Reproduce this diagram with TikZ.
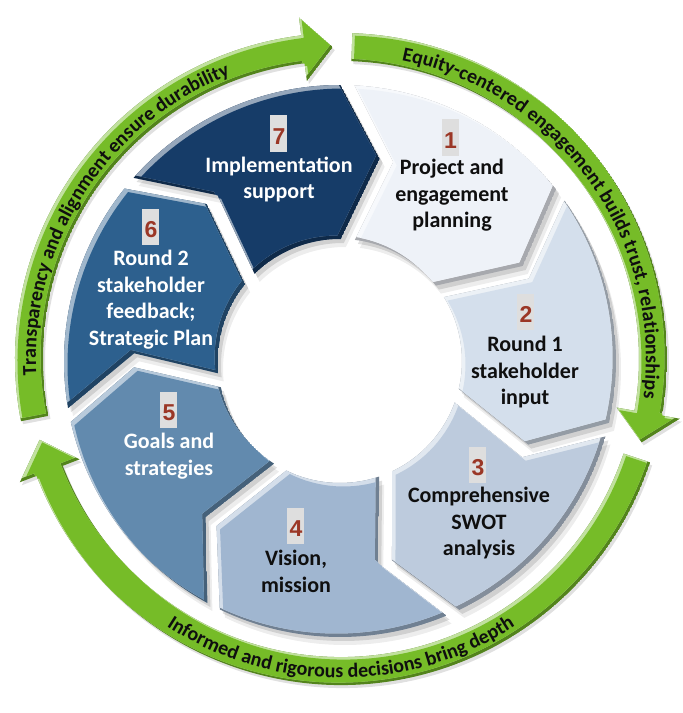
\documentclass[tikz,border=0pt]{standalone}
\usepackage{fontspec}
\setmainfont{Carlito}
\newfontfamily\numfont{Liberation Sans}
\usetikzlibrary{decorations.text}

\definecolor{sA}{RGB}{238,242,248}
\definecolor{sB}{RGB}{212,223,236}
\definecolor{sC}{RGB}{189,203,221}
\definecolor{sD}{RGB}{160,182,208}
\definecolor{sE}{RGB}{98,138,174}
\definecolor{sF}{RGB}{45,96,142}
\definecolor{sG}{RGB}{22,60,104}
\definecolor{numred}{RGB}{155,55,38}
\definecolor{numbg}{RGB}{222,222,222}
\definecolor{gmain}{RGB}{118,188,40}
\definecolor{txtdark}{RGB}{15,15,15}

\newcommand\Ro{276}
\newcommand\Ri{122}
\newcommand\Rm{206}
\newcommand\SetSeg[1]{%
 \pgfmathsetmacro\T{#1}%
 \pgfmathsetmacro\La{#1-51.4286+2.9}%
 \pgfmathsetmacro\Lt{#1-51.4286-8.1}%
 \pgfmathsetmacro\Li{#1-51.4286+2.6}%
 \pgfmathsetmacro\Ti{#1-4}%
 \pgfmathsetmacro\Tn{#1-12}}
\newcommand\SegPath{(\T:\Ro) arc[start angle=\T,end angle=\La,radius=\Ro] -- (\Lt:\Rm) -- (\Li:\Ri) arc[start angle=\Li,end angle=\Ti,radius=\Ri] -- (\Tn:\Rm) -- cycle}
\newcommand\DrawSeg[2]{%
 \SetSeg{#1}%
 \begin{scope}
  \clip \SegPath;
  \fill[#2!70!black] \SegPath;
  \fill[#2!45!white, shift={(-3.5,3.5)}] \SegPath;
  \clip[shift={(-3.5,3.5)}] \SegPath;
  \fill[#2, shift={(3.5,-3.5)}] \SegPath;
 \end{scope}}

\newcommand\SetArrow[3]{\def\gA{#1}\def\gB{#2}\def\gC{#3}}
\newcommand\GPath{(\gA:326) arc[start angle=\gA,end angle=\gB,radius=326] -- (\gB:344) -- (\gC:312) -- (\gB:280) -- (\gB:298) arc[start angle=\gB,end angle=\gA,radius=298] -- cycle}
\newcommand\DrawArrow[3]{%
 \SetArrow{#1}{#2}{#3}%
 \fill[black, opacity=0.12, shift={(2,-3)}] \GPath;
 \begin{scope}
  \clip \GPath;
  \fill[gmain!70!black] \GPath;
  \fill[gmain!45!white, shift={(-2.5,2.5)}] \GPath;
  \clip[shift={(-2.5,2.5)}] \GPath;
  \fill[gmain, shift={(2.5,-2.5)}] \GPath;
 \end{scope}}

\newcommand\gtextfont{\bfseries\fontsize{20}{22}\selectfont}

\tikzset{
 segtext/.style={align=center, inner sep=0pt, font=\bfseries\fontsize{22}{26.5}\selectfont},
 numbox/.style={fill=numbg, minimum width=17pt, minimum height=36pt, inner sep=0pt},
 numtext/.style={inner sep=0pt, text=numred, font=\numfont\bfseries\fontsize{23}{23}\selectfont}
}

\begin{document}
\begin{tikzpicture}[x=1pt,y=1pt]
\useasboundingbox (-340,-352) rectangle (343,361);
\fill[white] (-340,-352) rectangle (343,361);

% green arrows
\begin{scope}[shift={(1,2)}]
 \DrawArrow{88}{-10}{-15.5}
 \DrawArrow{-18.5}{-159}{-165}
 \DrawArrow{191}{97}{91.5}
 \path[decorate, decoration={text along path, text align=center, text color=txtdark,
   text={|\gtextfont|Equity-centered engagement builds trust, relationships}}]
   (85.6:305) arc[start angle=85.6,end angle=-14.4,radius=305];
 \path[decorate, decoration={text along path, text align=center, text color=txtdark,
   text={|\gtextfont|Transparency and alignment ensure durability}}]
   (197.2:305) arc[start angle=197.2,end angle=97.2,radius=305];
 \path[decorate, decoration={text along path, text align=center, text color=txtdark,
   text={|\gtextfont|Informed and rigorous decisions bring depth}}]
   (220:319) arc[start angle=220,end angle=320,radius=319];
\end{scope}

% segment shadows
\foreach \a in {87,35.5714,-15.857,-67.286,-118.714,-170.143,-221.571}{
 \SetSeg{\a}
 \fill[black, opacity=0.07, shift={(5,-8)}] \SegPath;
 \fill[black, opacity=0.12, shift={(3,-4)}] \SegPath;
}

% segments
\DrawSeg{87}{sA}
\DrawSeg{35.5714}{sB}
\DrawSeg{-15.857}{sC}
\DrawSeg{-67.286}{sD}
\DrawSeg{-118.714}{sE}
\DrawSeg{-170.143}{sF}
\DrawSeg{-221.571}{sG}

% numbers
\node[numbox] (b1) at (110.5,223.5) {};
\node[numtext] (n1) at (110.5,220.5) {1};
\node[numbox] (b2) at (186,49.5) {};
\node[numtext] (n2) at (186,46.5) {2};
\node[numbox] (b3) at (138,-103.5) {};
\node[numtext] (n3) at (138,-106.5) {3};
\node[numbox] (b4) at (-44,-164.5) {};
\node[numtext] (n4) at (-44,-167.5) {4};
\node[numbox] (b5) at (-171,-49) {};
\node[numtext] (n5) at (-171,-52) {5};
\node[numbox] (b6) at (-189,134) {};
\node[numtext] (n6) at (-189,131) {6};
\node[numbox] (b7) at (-61,227.5) {};
\node[numtext] (n7) at (-61,224.5) {7};

% texts
\node[segtext, text=txtdark] (t1) at (112,165.5) {Project and\\engagement\\planning};
\node[segtext, text=txtdark] (t2) at (185,-11.5) {Round 1\\stakeholder\\input};
\node[segtext, text=txtdark] (t3) at (139,-162.5) {Comprehensive\\SWOT\\analysis};
\node[segtext, text=txtdark] (t4) at (-44,-210.25) {Vision,\\mission};
\node[segtext, text=white] (t5) at (-171,-95.25) {Goals and\\strategies};
\node[segtext, text=white] (t6) at (-189,61.25) {Round 2\\stakeholder\\feedback;\\Strategic Plan};
\node[segtext, text=white] (t7) at (-61,181.75) {Implementation\\support};
\end{tikzpicture}
\end{document}
